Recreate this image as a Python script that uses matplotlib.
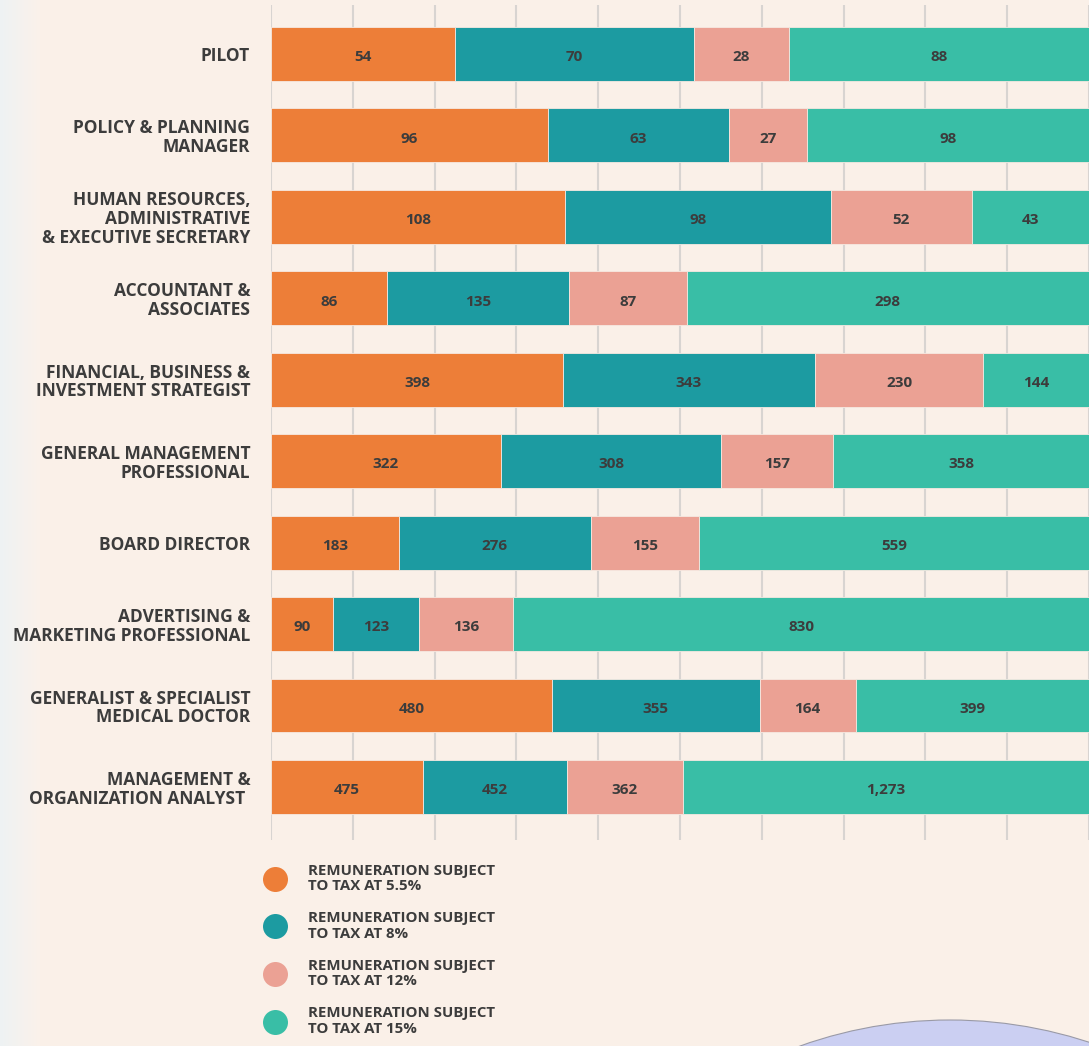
import matplotlib.pyplot as plt
import numpy as np
from matplotlib.lines import Line2D
from matplotlib.patches import Circle

# data, top row first
jobs = [
    "PILOT",
    "POLICY & PLANNING\nMANAGER",
    "HUMAN RESOURCES,\nADMINISTRATIVE\n& EXECUTIVE SECRETARY",
    "ACCOUNTANT &\nASSOCIATES",
    "FINANCIAL, BUSINESS &\nINVESTMENT STRATEGIST",
    "GENERAL MANAGEMENT\nPROFESSIONAL",
    "BOARD DIRECTOR",
    "ADVERTISING &\nMARKETING PROFESSIONAL",
    "GENERALIST & SPECIALIST\nMEDICAL DOCTOR",
    "MANAGEMENT &\nORGANIZATION ANALYST ",
]
tax_5_5 = [54, 96, 108, 86, 398, 322, 183, 90, 480, 475]
tax_8 = [70, 63, 98, 135, 343, 308, 276, 123, 355, 452]
tax_12 = [28, 27, 52, 87, 230, 157, 155, 136, 164, 362]
tax_15 = [88, 98, 43, 298, 144, 358, 559, 830, 399, 1273]

series_labels = [
    "REMUNERATION SUBJECT\nTO TAX AT 5.5%",
    "REMUNERATION SUBJECT\nTO TAX AT 8%",
    "REMUNERATION SUBJECT\nTO TAX AT 12%",
    "REMUNERATION SUBJECT\nTO TAX AT 15%",
]
colors = ["#ED7E38", "#1C9BA1", "#EBA194", "#39BEA6"]
text_col = "#3c3c3c"

plt.rcParams['font.family'] = ['Open Sans', 'DejaVu Sans']

fig = plt.figure(figsize=(10.89, 10.46), dpi=100)
fig.patch.set_facecolor("#fcf1ea")

# soft background: pale strip on the left, lavender circle bottom right
bg = fig.add_axes([0, 0, 1, 1], zorder=-10)
bg.set_xlim(0, 1089)
bg.set_ylim(1046, 0)
bg.axis("off")
grad = np.linspace(0, 1, 60)[None, :]
bg.imshow(grad, extent=(0, 40, 1046, 0), cmap=plt.matplotlib.colors.LinearSegmentedColormap.from_list(
    "s", ["#eef3f4", "#fbf1ea"]), aspect="auto")
bg.add_patch(plt.Rectangle((40, 0), 1049, 1046, color="#faf0e8", zorder=-1))
bg.add_patch(Circle((950, 1466), 446, facecolor="#cbcff2", edgecolor="#9a9aa6", lw=0.8))

ax = fig.add_axes([271 / 1089, 1 - 840 / 1046, 818 / 1089, 835 / 1046])
ax.set_facecolor("none")

data = np.array([tax_5_5, tax_8, tax_12, tax_15], dtype=float)
shares = data / data.sum(axis=0) * 100
y = np.arange(len(jobs))

left = np.zeros(len(jobs))
for k in range(4):
    ax.barh(y, shares[k], left=left, height=0.66, color=colors[k],
            edgecolor="#f6e9e1", linewidth=0.6, zorder=3)
    for i in range(len(jobs)):
        ax.text(left[i] + shares[k][i] / 2, y[i] + 0.04, f"{int(data[k][i]):,}",
                ha="center", va="center", fontsize=11, fontweight="bold",
                color=text_col, zorder=4)
    left += shares[k]

ax.set_xlim(0, 100)
ax.set_ylim(9.65, -0.6)
ax.set_xticks(np.arange(0, 101, 10))
ax.xaxis.grid(True, color="#d8d4d1", linewidth=1.5, zorder=0)
ax.tick_params(axis="x", length=0, labelbottom=False)
ax.set_yticks(y)
ax.set_yticklabels(jobs, fontsize=12.5, fontweight="bold", color=text_col,
                   linespacing=1.05)
ax.tick_params(axis="y", length=0, pad=15)
for s in ax.spines.values():
    s.set_visible(False)

handles = [Line2D([], [], marker="o", linestyle="none", markersize=18,
                  markerfacecolor=c, markeredgecolor="none") for c in colors]
leg = fig.legend(handles, series_labels, loc="upper left",
                 bbox_to_anchor=(246 / 1089, 1 - 850 / 1046), frameon=False,
                 labelspacing=1.2, handletextpad=1.2,
                 prop={"weight": "bold", "size": 10.8})
for t in leg.get_texts():
    t.set_color(text_col)
    t.set_linespacing(1.15)

fig.savefig("out.png", dpi=100, facecolor=fig.get_facecolor())
